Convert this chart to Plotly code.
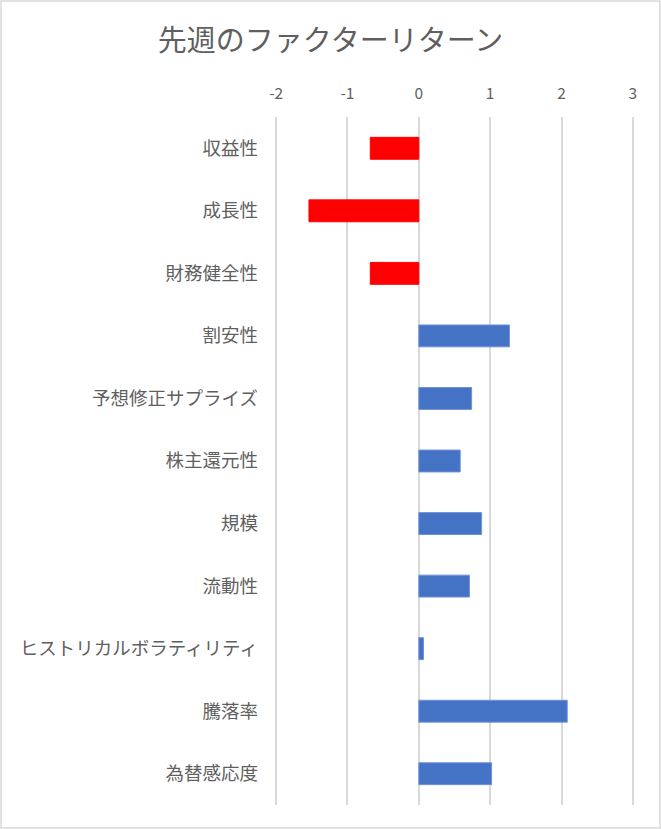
import plotly.graph_objects as go

# Factor returns for last week
factors = ["収益性", "成長性", "財務健全性", "割安性", "予想修正サプライズ", "株主還元性",
           "規模", "流動性", "ヒストリカルボラティリティ", "騰落率", "為替感応度"]
returns = [-0.68, -1.54, -0.68, 1.27, 0.74, 0.58, 0.88, 0.71, 0.065, 2.08, 1.02]

x_ticks = [-2, -1, 0, 1, 2, 3]
title = "先週のファクターリターン"

W, H = 661, 829
pad = 0.03  # small range padding so edge gridlines are drawn
ML, MR, MT, MB = 274, 26, 117, 24
pw, ph = W - ML - MR, H - MT - MB

colors = ["#FF0000" if v < 0 else "#4472C4" for v in returns]
lines = ["#FF0000" if v < 0 else "#6F93D6" for v in returns]

fig = go.Figure(go.Bar(
    x=returns, y=factors, orientation="h",
    marker=dict(color=colors, line=dict(color=lines, width=1)),
))

font = "Noto Sans CJK JP"
txt = "#5F5F5F"
fig.update_layout(
    width=W, height=H,
    margin=dict(l=ML, r=MR, t=MT, b=MB),
    paper_bgcolor="white", plot_bgcolor="white",
    showlegend=False,
    bargap=0.65,
    title=dict(text=title, xref="container", x=0.5, y=1 - 41 / H, yanchor="middle",
               font=dict(family=font, size=29, color=txt)),
    font=dict(family=font, color=txt),
)

fig.update_xaxes(
    side="top", range=[x_ticks[0] - pad, x_ticks[-1] + pad],
    tickvals=x_ticks, ticktext=[str(t) for t in x_ticks],
    showgrid=True, gridcolor="#D9D9D9", gridwidth=1.5,
    zeroline=True, zerolinecolor="#D9D9D9", zerolinewidth=1.5,
    showline=False, ticks="", ticklabelstandoff=14,
    tickfont=dict(family=font, size=15.5, color=txt),
)
fig.update_yaxes(
    autorange="reversed", showgrid=False, zeroline=False, showline=False,
    ticks="", ticklabelstandoff=15,
    tickfont=dict(family=font, size=18.5, color=txt),
)

# light chart border
fig.add_shape(type="rect", xref="paper", yref="paper",
              x0=-(ML - 1) / pw, x1=1 + (MR - 1) / pw,
              y0=-(MB - 1) / ph, y1=1 + (MT - 1) / ph,
              line=dict(color="#D9D9D9", width=1.5), layer="below")

fig.write_html("out.html", config={"displayModeBar": False},
               post_script="document.body.style.margin='0';")
